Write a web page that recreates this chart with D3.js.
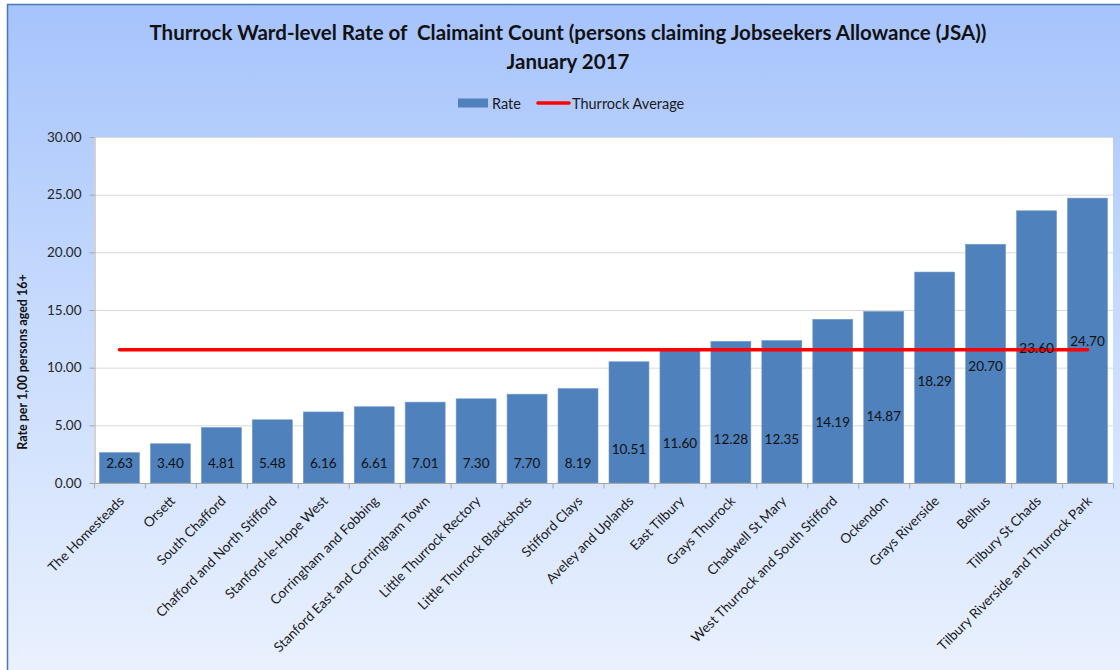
<!DOCTYPE html>
<html>
<head>
<meta charset="utf-8">
<script src="https://cdn.jsdelivr.net/npm/d3@7/dist/d3.min.js"></script>
<style>
  html, body { margin: 0; padding: 0; background: #ffffff; }
  svg { display: block; }
  text { font-family: Lato, "Open Sans", "DejaVu Sans", sans-serif; }
</style>
</head>
<body>
<svg id="chart" width="1120" height="670"></svg>
<script>
// Ward names, in the order they are plotted
const wards = [
  "The Homesteads", "Orsett", "South Chafford", "Chafford and North Stifford",
  "Stanford-le-Hope West", "Corringham and Fobbing", "Stanford East and Corringham Town",
  "Little Thurrock Rectory", "Little Thurrock Blackshots", "Stifford Clays",
  "Aveley and Uplands", "East Tilbury", "Grays Thurrock", "Chadwell St Mary",
  "West Thurrock and South Stifford", "Ockendon", "Grays Riverside", "Belhus",
  "Tilbury St Chads", "Tilbury Riverside and Thurrock Park"
];

// JSA claimant rate per 1,000 persons aged 16+
const rates = [
  2.63, 3.40, 4.81, 5.48, 6.16, 6.61, 7.01, 7.30, 7.70, 8.19,
  10.51, 11.60, 12.28, 12.35, 14.19, 14.87, 18.29, 20.70, 23.60, 24.70
];

// Borough-wide average rate
const thurrockAverage = 11.55;

// Value axis ticks
const yTicks = [0, 5, 10, 15, 20, 25, 30];

const titleLines = [
  "Thurrock Ward-level Rate of  Claimaint Count (persons claiming Jobseekers Allowance (JSA))",
  "January 2017"
];
const yAxisTitle = "Rate per 1,00 persons aged 16+";
const legendRate = "Rate";
const legendAverage = "Thurrock Average";

const svg = d3.select("#chart");
const W = 1120, H = 670;

// Chart background gradient
const defs = svg.append("defs");
const grad = defs.append("linearGradient")
  .attr("id", "bg").attr("x1", 0).attr("y1", 0).attr("x2", 0).attr("y2", 1);
grad.append("stop").attr("offset", "0%").attr("stop-color", "#a6c3fb");
grad.append("stop").attr("offset", "45%").attr("stop-color", "#c6dafd");
grad.append("stop").attr("offset", "100%").attr("stop-color", "#eaf1fe");

svg.append("rect")
  .attr("x", 7.5).attr("y", 4.5)
  .attr("width", W).attr("height", H)
  .attr("fill", "url(#bg)")
  .attr("stroke", "#4a79b5").attr("stroke-width", 1.5);

// Plot area
const plot = { left: 94, right: 1113, top: 137, bottom: 483 };

svg.append("rect")
  .attr("x", plot.left).attr("y", plot.top)
  .attr("width", plot.right - plot.left).attr("height", plot.bottom - plot.top)
  .attr("fill", "#ffffff");

const x = d3.scaleBand()
  .domain(wards)
  .range([plot.left, plot.right])
  .paddingInner(0.216)
  .paddingOuter(0.108);

const y = d3.scaleLinear()
  .domain([0, 30])
  .range([plot.bottom, plot.top]);

// Horizontal gridlines
svg.append("g")
  .selectAll("line")
  .data(yTicks.filter(d => d > 0))
  .join("line")
  .attr("x1", plot.left).attr("x2", plot.right)
  .attr("y1", d => y(d) + 0.5).attr("y2", d => y(d) + 0.5)
  .attr("stroke", "#d9d9d9").attr("stroke-width", 1);

// Y axis
const yAxis = svg.append("g")
  .attr("transform", `translate(${plot.left + 0.5},0)`)
  .call(d3.axisLeft(y).tickValues(yTicks).tickFormat(d3.format(".2f")).tickSize(5).tickSizeOuter(0).tickPadding(8));
yAxis.select(".domain").attr("stroke", "#a6a6a6");
yAxis.selectAll(".tick line").attr("stroke", "#a6a6a6");
yAxis.selectAll(".tick text")
  .attr("font-size", 13.5).attr("fill", "#262626")
  .style("font-family", "Lato, sans-serif");

// Bars
svg.append("g")
  .selectAll("rect")
  .data(rates)
  .join("rect")
  .attr("x", (d, i) => x(wards[i]))
  .attr("y", d => y(d))
  .attr("width", x.bandwidth())
  .attr("height", d => plot.bottom - y(d))
  .attr("fill", "#4f81bd")
  .attr("stroke", "#6f98cc").attr("stroke-width", 0.6);

// X axis with ticks at category boundaries
const xAxis = svg.append("g").attr("transform", `translate(0,${plot.bottom + 0.5})`);
xAxis.append("line")
  .attr("x1", plot.left).attr("x2", plot.right)
  .attr("stroke", "#a6a6a6");
const step = x.step();
xAxis.selectAll("line.tick")
  .data(d3.range(wards.length + 1))
  .join("line")
  .attr("class", "tick")
  .attr("x1", i => plot.left + i * step + 0.5)
  .attr("x2", i => plot.left + i * step + 0.5)
  .attr("y1", 0).attr("y2", 5)
  .attr("stroke", "#a6a6a6");

xAxis.selectAll("text")
  .data(wards)
  .join("text")
  .attr("transform", d => `translate(${x(d) + x.bandwidth() / 2 + 2},${15}) rotate(-45)`)
  .attr("text-anchor", "end")
  .attr("dy", "0.35em")
  .attr("font-size", 13.6)
  .attr("fill", "#1a1a1a")
  .text(d => d);

// Average line across category centres
const avgY = y(thurrockAverage);
svg.append("line")
  .attr("x1", x(wards[0]) + x.bandwidth() / 2)
  .attr("x2", x(wards[wards.length - 1]) + x.bandwidth() / 2)
  .attr("y1", avgY).attr("y2", avgY)
  .attr("stroke", "#ff0000").attr("stroke-width", 3.6)
  .attr("stroke-linecap", "round");

// Value labels sit in the lower part of each bar
const labelLevel = d3.scaleLinear()
  .domain([0, 8.19, 10.51, 12.35, 14.87, 18.29, 24.70])
  .range([1.73, 1.73, 2.95, 3.82, 5.81, 8.84, 12.31])
  .clamp(true);

svg.append("g")
  .selectAll("text")
  .data(rates)
  .join("text")
  .attr("x", (d, i) => x(wards[i]) + x.bandwidth() / 2)
  .attr("y", d => y(labelLevel(d)))
  .attr("text-anchor", "middle")
  .attr("dominant-baseline", "central")
  .attr("font-size", 13.5)
  .attr("fill", "#111111")
  .text(d => d3.format(".2f")(d));

// Title
svg.append("g")
  .selectAll("text")
  .data(titleLines)
  .join("text")
  .attr("x", 568)
  .attr("y", (d, i) => 40 + i * 29)
  .attr("text-anchor", "middle")
  .attr("font-size", 20.5)
  .attr("font-weight", "bold")
  .attr("fill", "#111111")
  .style("white-space", "pre")
  .attr("xml:space", "preserve")
  .text(d => d);

// Y axis title
svg.append("text")
  .attr("transform", `translate(27,${362}) rotate(-90)`)
  .attr("text-anchor", "middle")
  .attr("font-size", 12.5)
  .attr("font-weight", "bold")
  .attr("fill", "#111111")
  .text(yAxisTitle);

// Legend
const legend = svg.append("g");
legend.append("rect")
  .attr("x", 458).attr("y", 98.5).attr("width", 30).attr("height", 9)
  .attr("fill", "#4f81bd");
legend.append("text")
  .attr("x", 492).attr("y", 103).attr("dominant-baseline", "central")
  .attr("font-size", 14.5).attr("fill", "#1a1a1a")
  .text(legendRate);
legend.append("line")
  .attr("x1", 538).attr("x2", 569).attr("y1", 103).attr("y2", 103)
  .attr("stroke", "#ff0000").attr("stroke-width", 3.6).attr("stroke-linecap", "round");
legend.append("text")
  .attr("x", 572).attr("y", 103).attr("dominant-baseline", "central")
  .attr("font-size", 14.5).attr("fill", "#1a1a1a")
  .text(legendAverage);
</script>
</body>
</html>
